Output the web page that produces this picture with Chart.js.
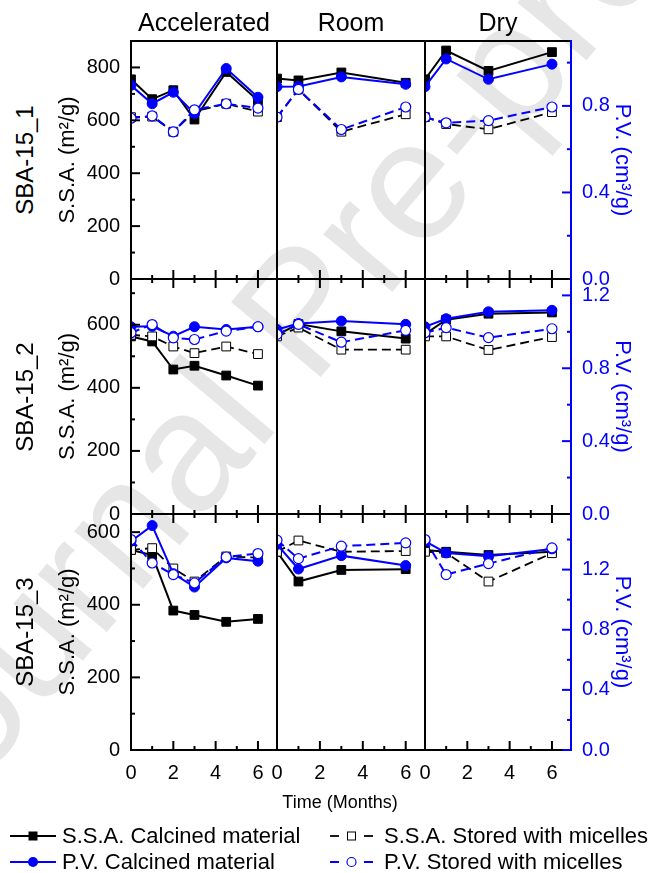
<!DOCTYPE html>
<html>
<head>
<meta charset="utf-8">
<script src="https://cdn.jsdelivr.net/npm/chart.js@4.4.0/dist/chart.umd.min.js"></script>
<style>
  html, body { margin: 0; padding: 0; background: #fff; }
  #figure { position: relative; width: 649px; height: 873px; overflow: hidden;
            font-family: "Liberation Sans", Arial, sans-serif; color: #000; }
  #figure canvas { position: absolute; }
  .mark { position: absolute; white-space: nowrap; line-height: 1; }
  .centered { transform: translate(-50%, -50%); }
  .vertical { transform: translate(-50%, -50%) rotate(-90deg); }
  .watermark { position: absolute; left: 300px; top: 310px; font-size: 170px; color: #e6e6e6;
               white-space: nowrap; transform: translate(-50%, -50%) rotate(-50deg); line-height: 1; }
  .legend-text { position: absolute; font-size: 22px; white-space: nowrap; line-height: 1; transform: translateY(-50%); }
</style>
</head>
<body>
<div id="figure">
  <div class="watermark">Journal Pre-proof</div>
</div>
<script>
// storage time, months
const monthsAccelerated = [0, 1, 2, 3, 4.5, 6];
const monthsShelf = [0, 1, 3, 6];

const conditions = ['Accelerated', 'Room', 'Dry'];
const samples = ['SBA-15_1', 'SBA-15_2', 'SBA-15_3'];

// each array holds one inner list per condition: Accelerated, Room, Dry
// S.S.A. (m2/g)
const ssaCalcined1 = [[755, 680, 714, 603, 783, 675], [758, 751, 781, 742], [755, 864, 787, 858]];
const ssaStored1 = [[612, 614, 557, 633, 663, 633], [612, 717, 557, 623], [612, 586, 566, 631]];
const ssaCalcined2 = [[563, 547, 458, 470, 439, 407], [568, 602, 579, 556], [570, 616, 635, 639]];
const ssaStored2 = [[568, 563, 531, 510, 531, 507], [563, 591, 521, 521], [563, 563, 520, 561]];
const ssaCalcined3 = [[551, 537, 384, 372, 353, 361], [546, 464, 496, 498], [551, 546, 537, 546]];
const ssaStored3 = [[551, 556, 500, 464, 533, 530], [546, 577, 546, 548], [546, 543, 464, 542]];

// P.V. (cm3/g)
const pvCalcined1 = [[0.895, 0.81, 0.863, 0.765, 0.973, 0.84], [0.889, 0.89, 0.934, 0.90], [0.889, 1.017, 0.923, 0.993]];
const pvStored1 = [[0.743, 0.754, 0.68, 0.782, 0.81, 0.79], [0.748, 0.876, 0.691, 0.795], [0.748, 0.722, 0.732, 0.795]];
const pvCalcined2 = [[1.028, 1.03, 0.976, 1.028, 1.013, 1.028], [1.013, 1.046, 1.059, 1.041], [1.028, 1.072, 1.11, 1.118]];
const pvStored2 = [[0.995, 1.04, 0.967, 0.958, 1.004, 1.028], [0.986, 1.041, 0.943, 1.008], [0.995, 1.023, 0.968, 1.017]];
const pvCalcined3 = [[1.389, 1.493, 1.173, 1.084, 1.278, 1.256], [1.367, 1.204, 1.293, 1.227], [1.389, 1.311, 1.289, 1.338]];
const pvStored3 = [[1.4, 1.244, 1.167, 1.111, 1.284, 1.307], [1.396, 1.273, 1.356, 1.378], [1.4, 1.167, 1.24, 1.344]];

// axis ranges and labelled ticks per sample row
const ssaAxisMax = [900, 745, 650];
const pvAxisMax = [1.1, 1.29, 1.57];
const ssaTickLabels = [[0, 200, 400, 600, 800], [0, 200, 400, 600], [0, 200, 400, 600]];
const pvTickLabels = [[0, 0.4, 0.8], [0, 0.4, 0.8, 1.2], [0, 0.4, 0.8, 1.2]];
const timeAxisMax = 6.9;
const timeTickLabels = [0, 2, 4, 6];

const ssaCalcined = [ssaCalcined1, ssaCalcined2, ssaCalcined3];
const ssaStored = [ssaStored1, ssaStored2, ssaStored3];
const pvCalcined = [pvCalcined1, pvCalcined2, pvCalcined3];
const pvStored = [pvStored1, pvStored2, pvStored3];

const BLUE = '#0000ff';
const FONT = "'Liberation Sans', Arial, sans-serif";
const TICK_SIZE = 20;
const TITLE_SIZE = 22;

// panel grid in page pixels
const colEdges = [131, 277, 425, 571];
const rowEdges = [41, 279, 514, 750];
const EDGE = 26;          // spare room round each plot area
const LEFT_AXIS = 76;
const RIGHT_AXIS = 78;
const BOTTOM_AXIS = 32;

const figure = document.getElementById('figure');

const fixedTicks = (values) => (scale) => {
    scale.ticks = values.map((v) => ({value: v}));
};

// frame plus inward major/minor ticks; minors sit halfway between labels
const panelFrame = {
    id: 'panelFrame',
    afterDatasetsDraw(chart, args, opts) {
        const {ctx, chartArea: {left, right, top, bottom}} = chart;
        const xs = chart.scales.x, ys = chart.scales.y, y1 = chart.scales.y1;
        ctx.save();
        ctx.lineWidth = 2;
        ctx.lineCap = 'butt';
        ctx.strokeStyle = '#000';

        const line = (xa, ya, xb, yb) => {
            ctx.beginPath();
            ctx.moveTo(xa, ya);
            ctx.lineTo(xb, yb);
            ctx.stroke();
        };
        const halfSteps = (labels, max) => {
            const half = (labels[1] - labels[0]) / 2;
            const out = [];
            for (let k = 0; k * half <= max + 1e-9; k++) out.push({v: k * half, major: k % 2 === 0});
            return out;
        };

        // time ticks on bottom edge, and on top edge below the first row
        halfSteps(timeTickLabels, timeAxisMax).forEach(({v, major}) => {
            const px = xs.getPixelForValue(v);
            const len = major ? 9 : 4;
            line(px, bottom, px, bottom - len);
            if (opts.row > 0) line(px, top, px, top + len);
        });

        if (opts.col === 0) {
            halfSteps(ssaTickLabels[opts.row], ssaAxisMax[opts.row]).forEach(({v, major}) => {
                const py = ys.getPixelForValue(v);
                line(left, py, left + (major ? 9 : 4), py);
            });
        }

        // frame
        line(left - 1, bottom, right + 1, bottom);
        line(left - 1, top, right + 1, top);
        line(left, top, left, bottom);
        if (opts.col < 2) line(right, top, right, bottom);

        if (opts.col === 2) {
            ctx.strokeStyle = BLUE;
            line(right, top - 1, right, bottom + 1);
            halfSteps(pvTickLabels[opts.row], pvAxisMax[opts.row]).forEach(({v, major}) => {
                const py = y1.getPixelForValue(v);
                line(right, py, right - (major ? 9 : 4), py);
            });
        }
        ctx.restore();
    }
};

function points(months, values) {
    return values.map((v, i) => ({x: months[i], y: v}));
}

function panelDatasets(row, col) {
    const months = col === 0 ? monthsAccelerated : monthsShelf;
    const common = {tension: 0, clip: {left: 0, top: 6, right: 6, bottom: 6}};
    return [
        Object.assign({
            label: 'P.V. Stored with micelles',
            data: points(months, pvStored[row][col]),
            yAxisID: 'y1',
            borderColor: BLUE, borderWidth: 2, borderDash: [9, 5],
            pointStyle: 'circle', pointRadius: 5,
            pointBackgroundColor: '#fff', pointBorderColor: BLUE, pointBorderWidth: 1.2
        }, common),
        Object.assign({
            label: 'P.V. Calcined material',
            data: points(months, pvCalcined[row][col]),
            yAxisID: 'y1',
            borderColor: BLUE, borderWidth: 2,
            pointStyle: 'circle', pointRadius: 5,
            pointBackgroundColor: BLUE, pointBorderColor: BLUE, pointBorderWidth: 1
        }, common),
        Object.assign({
            label: 'S.S.A. Stored with micelles',
            data: points(months, ssaStored[row][col]),
            yAxisID: 'y',
            borderColor: '#000', borderWidth: 1.8, borderDash: [9, 5],
            pointStyle: 'rect', pointRadius: 6.2,
            pointBackgroundColor: '#fff', pointBorderColor: '#000', pointBorderWidth: 1
        }, common),
        Object.assign({
            label: 'S.S.A. Calcined material',
            data: points(months, ssaCalcined[row][col]),
            yAxisID: 'y',
            borderColor: '#000', borderWidth: 2,
            pointStyle: 'rect', pointRadius: 6.2,
            pointBackgroundColor: '#000', pointBorderColor: '#000', pointBorderWidth: 1
        }, common)
    ];
}

function buildPanel(row, col) {
    const showLeft = col === 0, showRight = col === 2, showBottom = row === 2;
    const padL = showLeft ? LEFT_AXIS : EDGE;
    const padR = showRight ? RIGHT_AXIS : EDGE;
    const padT = EDGE;
    const padB = showBottom ? BOTTOM_AXIS : EDGE;
    const w = colEdges[col + 1] - colEdges[col];
    const h = rowEdges[row + 1] - rowEdges[row];

    const canvas = document.createElement('canvas');
    canvas.width = w + padL + padR;
    canvas.height = h + padT + padB;
    canvas.style.left = (colEdges[col] - padL) + 'px';
    canvas.style.top = (rowEdges[row] - padT) + 'px';
    canvas.style.width = canvas.width + 'px';
    canvas.style.height = canvas.height + 'px';
    figure.appendChild(canvas);

    new Chart(canvas.getContext('2d'), {
        type: 'line',
        data: {datasets: panelDatasets(row, col)},
        plugins: [panelFrame],
        options: {
            responsive: false,
            animation: false,
            devicePixelRatio: 1,
            layout: {
                padding: {
                    left: showLeft ? 0 : EDGE,
                    right: showRight ? 0 : EDGE,
                    top: EDGE,
                    bottom: showBottom ? 0 : EDGE
                }
            },
            plugins: {
                legend: {display: false},
                tooltip: {enabled: false},
                panelFrame: {row, col}
            },
            scales: {
                x: {
                    type: 'linear',
                    display: showBottom,
                    min: 0,
                    max: timeAxisMax,
                    bounds: 'data',
                    afterBuildTicks: fixedTicks(timeTickLabels),
                    grid: {display: false, drawTicks: false},
                    border: {display: false},
                    ticks: {
                        autoSkip: false,
                        maxRotation: 0,
                        padding: 11,
                        color: '#000',
                        font: {family: FONT, size: TICK_SIZE},
                        callback: (v) => String(v)
                    },
                    afterFit: showBottom ? (scale) => { scale.height = BOTTOM_AXIS; } : undefined
                },
                y: {
                    type: 'linear',
                    position: 'left',
                    display: showLeft,
                    min: 0,
                    max: ssaAxisMax[row],
                    bounds: 'data',
                    afterBuildTicks: fixedTicks(ssaTickLabels[row]),
                    grid: {display: false, drawTicks: false},
                    border: {display: false},
                    ticks: {
                        autoSkip: false,
                        padding: 11,
                        color: '#000',
                        font: {family: FONT, size: TICK_SIZE},
                        callback: (v) => String(v)
                    },
                    title: {
                        display: true,
                        text: 'S.S.A. (m²/g)',
                        color: '#000',
                        font: {family: FONT, size: TITLE_SIZE},
                        padding: {top: 0, bottom: 0}
                    },
                    afterFit: showLeft ? (scale) => { scale.width = LEFT_AXIS; } : undefined
                },
                y1: {
                    type: 'linear',
                    position: 'right',
                    display: showRight,
                    min: 0,
                    max: pvAxisMax[row],
                    bounds: 'data',
                    afterBuildTicks: fixedTicks(pvTickLabels[row]),
                    grid: {display: false, drawTicks: false},
                    border: {display: false},
                    ticks: {
                        autoSkip: false,
                        padding: 11,
                        color: BLUE,
                        font: {family: FONT, size: TICK_SIZE},
                        callback: (v) => v.toFixed(1)
                    },
                    title: {
                        display: true,
                        text: 'P.V. (cm³/g)',
                        color: BLUE,
                        font: {family: FONT, size: TITLE_SIZE},
                        padding: {top: 14, bottom: 0}
                    },
                    afterFit: showRight ? (scale) => { scale.width = RIGHT_AXIS; } : undefined
                }
            }
        }
    });
}

for (let r = 0; r < 3; r++) {
    for (let c = 0; c < 3; c++) buildPanel(r, c);
}

// headings, sample labels and shared axis caption
function addText(text, x, y, size, cls) {
    const el = document.createElement('div');
    el.className = 'mark ' + cls;
    el.style.left = x + 'px';
    el.style.top = y + 'px';
    el.style.fontSize = size + 'px';
    el.textContent = text;
    figure.appendChild(el);
}

conditions.forEach((name, c) => {
    addText(name, (colEdges[c] + colEdges[c + 1]) / 2, 22, 25, 'centered');
});
samples.forEach((name, r) => addText(name, 25, (rowEdges[r] + rowEdges[r + 1]) / 2, 24, 'vertical'));
addText('Time (Months)', 340, 802, 18, 'centered');

// legend
const legendRows = [836, 862];
const legendSvg = document.createElementNS('http://www.w3.org/2000/svg', 'svg');
legendSvg.setAttribute('width', 649);
legendSvg.setAttribute('height', 873);
legendSvg.style.position = 'absolute';
legendSvg.style.left = '0px';
legendSvg.style.top = '0px';
legendSvg.innerHTML =
    `<line x1="10" y1="${legendRows[0]}" x2="56" y2="${legendRows[0]}" stroke="#000" stroke-width="2"/>` +
    `<rect x="28.5" y="${legendRows[0] - 4.5}" width="9" height="9" fill="#000"/>` +
    `<line x1="10" y1="${legendRows[1]}" x2="56" y2="${legendRows[1]}" stroke="${BLUE}" stroke-width="2"/>` +
    `<circle cx="33" cy="${legendRows[1]}" r="5" fill="${BLUE}"/>` +
    `<line x1="330" y1="${legendRows[0]}" x2="339" y2="${legendRows[0]}" stroke="#000" stroke-width="1.8"/>` +
    `<rect x="347.5" y="${legendRows[0] - 4}" width="8" height="8" fill="#fff" stroke="#000" stroke-width="1"/>` +
    `<line x1="364" y1="${legendRows[0]}" x2="373" y2="${legendRows[0]}" stroke="#000" stroke-width="1.8"/>` +
    `<line x1="330" y1="${legendRows[1]}" x2="339" y2="${legendRows[1]}" stroke="${BLUE}" stroke-width="2"/>` +
    `<circle cx="351.5" cy="${legendRows[1]}" r="4.5" fill="#fff" stroke="${BLUE}" stroke-width="1.2"/>` +
    `<line x1="364" y1="${legendRows[1]}" x2="373" y2="${legendRows[1]}" stroke="${BLUE}" stroke-width="2"/>`;
figure.appendChild(legendSvg);

const legendLabels = [
    ['S.S.A. Calcined material', 62, legendRows[0]],
    ['P.V. Calcined material', 62, legendRows[1]],
    ['S.S.A. Stored with micelles', 384, legendRows[0]],
    ['P.V. Stored with micelles', 384, legendRows[1]]
];
legendLabels.forEach(([text, x, y]) => {
    const el = document.createElement('div');
    el.className = 'legend-text';
    el.style.left = x + 'px';
    el.style.top = y + 'px';
    el.textContent = text;
    figure.appendChild(el);
});
</script>
</body>
</html>
